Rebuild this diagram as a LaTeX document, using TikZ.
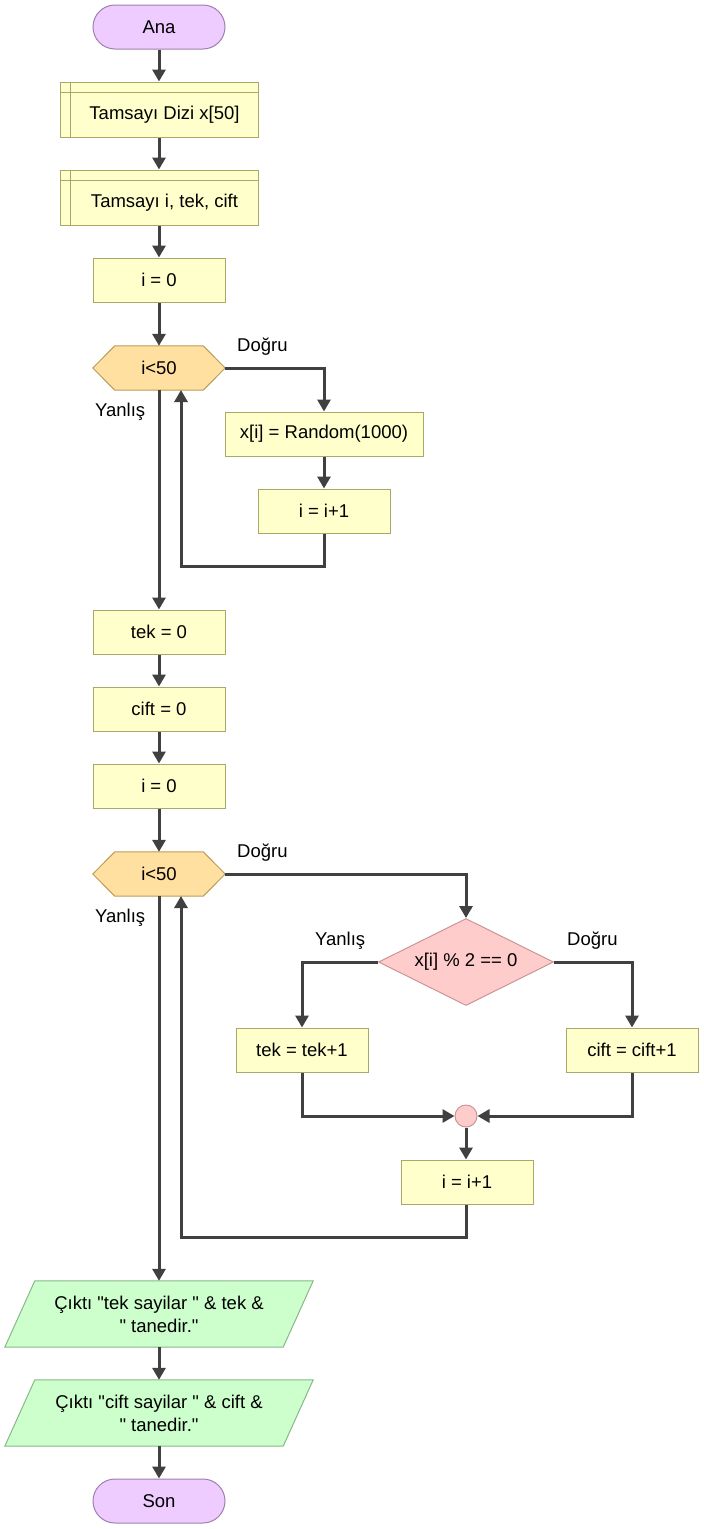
\documentclass[tikz,border=0pt]{standalone}
\usepackage{fontspec}
\setmainfont{Liberation Sans}[Ligatures=TeXOff]
\usetikzlibrary{arrows.meta,shapes.geometric,calc}
\definecolor{termf}{HTML}{EECCFF}
\definecolor{termb}{HTML}{9F80AF}
\definecolor{procf}{HTML}{FFFFCC}
\definecolor{procb}{HTML}{A8A868}
\definecolor{hexf}{HTML}{FFE0A0}
\definecolor{hexb}{HTML}{BC9C58}
\definecolor{decf}{HTML}{FFCCCC}
\definecolor{decb}{HTML}{CC9494}
\definecolor{iof}{HTML}{CCFFCC}
\definecolor{iob}{HTML}{88B888}
\definecolor{arrc}{HTML}{404040}
\newcommand{\fs}{\fontsize{18.5}{23}\selectfont}
\begin{document}
\begin{tikzpicture}[x=1pt,y=-1pt,
  every node/.style={font=\fs, inner sep=0pt},
  term/.style={draw=termb, fill=termf, line width=1pt, rounded corners=22pt, minimum width=132pt, minimum height=44pt},
  proc/.style={draw=procb, fill=procf, line width=1pt, minimum width=132pt, minimum height=44pt},
  decl/.style={draw=procb, fill=procf, line width=1pt, minimum width=198pt, minimum height=55pt},
  hexbox/.style={minimum width=132pt, minimum height=44pt},
  cond/.style={shape=diamond, aspect=2, draw=decb, fill=decf, line width=1pt, minimum width=175pt, minimum height=87pt},
  joint/.style={shape=circle, draw=decb, fill=decf, line width=1pt, minimum size=22pt},
  iobox/.style={minimum width=278pt, minimum height=66pt, align=center},
  lbl/.style={anchor=west},
  arr/.style={draw=arrc, line width=3pt, -{Triangle[width=13pt,length=12pt]}},
  ln/.style={draw=arrc, line width=3pt}
]
\useasboundingbox (0,0) rectangle (704,1529);

% nodes
\node[term] (ana) at (159,27) {Ana};
\node[decl] (d1) at (159,109.5) {};
\draw[procb, line width=1pt] ($(d1.north west)+(11,0)$) -- ($(d1.south west)+(11,0)$);
\draw[procb, line width=1pt] ($(d1.north west)+(0,11)$) -- ($(d1.north east)+(0,11)$);
\node (d1t) at ($(d1.center)+(5.5,5.5)$) {Tamsayı Dizi x[50]};
\node[decl] (d2) at (159,197.5) {};
\draw[procb, line width=1pt] ($(d2.north west)+(11,0)$) -- ($(d2.south west)+(11,0)$);
\draw[procb, line width=1pt] ($(d2.north west)+(0,11)$) -- ($(d2.north east)+(0,11)$);
\node (d2t) at ($(d2.center)+(5.5,5.5)$) {Tamsayı i, tek, cift};
\node[proc] (ia) at (159,280) {i = 0};

\node[hexbox] (h1) at (159,368) {};
\draw[hexb, fill=hexf, line width=1pt] (h1.west) -- ($(h1.north west)+(22,0)$) -- ($(h1.north east)+(-22,0)$) -- (h1.east) -- ($(h1.south east)+(-22,0)$) -- ($(h1.south west)+(22,0)$) -- cycle;
\node (h1t) at (h1.center) {i<50};

\node[proc, minimum width=198pt] (rnd) at (324,434) {x[i] = Random(1000)};
\node[proc] (inc1) at (324,511) {i = i+1};

\node[proc] (tek0) at (159,632) {tek = 0};
\node[proc] (cift0) at (159,709) {cift = 0};
\node[proc] (ib) at (159,786) {i = 0};

\node[hexbox] (h2) at (159,874) {};
\draw[hexb, fill=hexf, line width=1pt] (h2.west) -- ($(h2.north west)+(22,0)$) -- ($(h2.north east)+(-22,0)$) -- (h2.east) -- ($(h2.south east)+(-22,0)$) -- ($(h2.south west)+(22,0)$) -- cycle;
\node (h2t) at (h2.center) {i<50};

\node[cond] (dec) at (466,962) {x[i] \% 2 == 0};
\node[proc] (tekp) at (302,1050) {tek = tek+1};
\node[proc] (ciftp) at (632,1050) {cift = cift+1};
\node[joint] (jn) at (466,1116) {};
\node[proc] (inc2) at (467,1182) {i = i+1};

\node[iobox] (o1) at (159,1314) {};
\draw[iob, fill=iof, line width=1pt] ($(o1.north west)+(15,0)$) -- ($(o1.north east)+(15,0)$) -- ($(o1.south east)+(-15,0)$) -- ($(o1.south west)+(-15,0)$) -- cycle;
\node[align=center] (o1t) at (o1.center) {Çıktı "tek sayilar " \& tek \&\\" tanedir."};
\node[iobox] (o2) at (159,1413) {};
\draw[iob, fill=iof, line width=1pt] ($(o2.north west)+(15,0)$) -- ($(o2.north east)+(15,0)$) -- ($(o2.south east)+(-15,0)$) -- ($(o2.south west)+(-15,0)$) -- cycle;
\node[align=center] (o2t) at (o2.center) {Çıktı "cift sayilar " \& cift \&\\" tanedir."};
\node[term] (son) at (159,1501) {Son};

% labels
\node[lbl] (l1) at (237,347) {Doğru};
\node[lbl] (l2) at (95,412) {Yanlış};
\node[lbl] (l3) at (237,853) {Doğru};
\node[lbl] (l4) at (95,918) {Yanlış};
\node[lbl] (l5) at (315,941) {Yanlış};
\node[lbl] (l6) at (567,941) {Doğru};

% coordinates
\coordinate (c1) at (181,566);
\coordinate (h1in) at (181,390);
\coordinate (c2) at (181,1237);
\coordinate (h2in) at (181,896);

% connectors
\draw[arr] (ana) -- (d1);
\draw[arr] (d1) -- (d2);
\draw[arr] (d2) -- (ia);
\draw[arr] (ia) -- (h1);
\draw[arr] (h1.east) -| (rnd.north);
\draw[arr] (rnd) -- (inc1);
\draw[arr] (inc1.south) |- (c1) -- (h1in);
\draw[arr] (h1.south) -- (tek0.north);
\draw[arr] (tek0) -- (cift0);
\draw[arr] (cift0) -- (ib);
\draw[arr] (ib) -- (h2);
\draw[arr] (h2.east) -| (dec.north);
\draw[arr] (dec.west) -| (tekp.north);
\draw[arr] (dec.east) -| (ciftp.north);
\draw[arr] (tekp.south) |- (jn.west);
\draw[arr] (ciftp.south) |- (jn.east);
\draw[arr] (jn) -- (jn |- inc2.north);
\draw[arr] (inc2.south -| jn) |- (c2) -- (h2in);
\draw[arr] (h2.south) -- (o1.north);
\draw[arr] (o1) -- (o2);
\draw[arr] (o2) -- (son);
\end{tikzpicture}
\end{document}
